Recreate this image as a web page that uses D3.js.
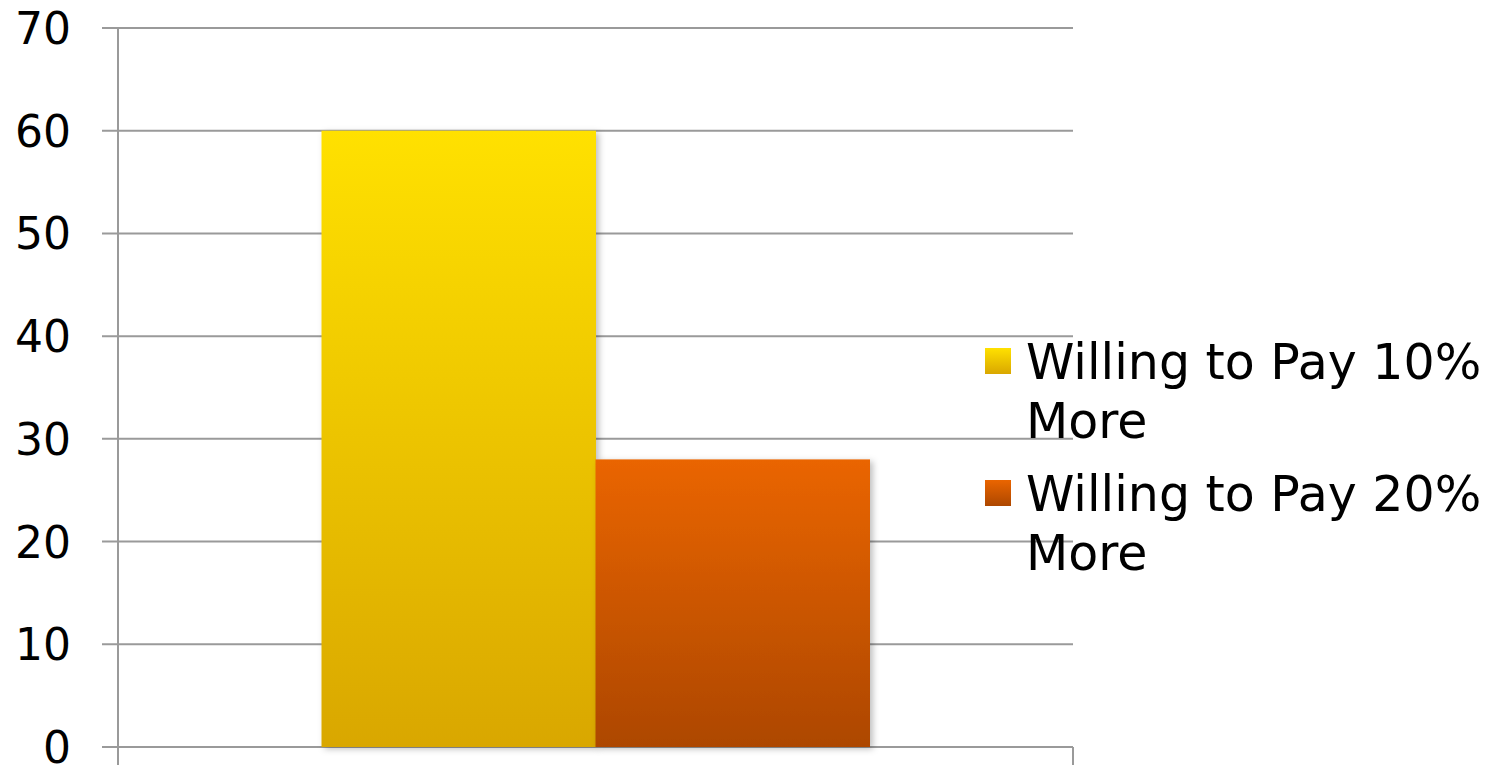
<!DOCTYPE html>
<html>
<head>
<meta charset="utf-8">
<script src="https://cdn.jsdelivr.net/npm/d3@7"></script>
<style>
  body { margin: 0; background: #fff; }
  text { font-family: Verdana, "DejaVu Sans", sans-serif; fill: #000; }
</style>
</head>
<body>
<div id="container"></div>
<script>
var categories = [""];
var seriesNames = ["Willing to Pay 10% More", "Willing to Pay 20% More"];
var legendLines = [["Willing to Pay 10%", "More"], ["Willing to Pay 20%", "More"]];
var seriesValues = [60, 28];
var yTicks = [0, 10, 20, 30, 40, 50, 60, 70];

var w = 1493, h = 765;
var gradColors = [["#ffe100", "#d9a700"], ["#ea6500", "#ad4700"]];

var svg = d3.select("#container")
	.append("svg")
	.attr("width", w)
	.attr("height", h);

var defs = svg.append("defs");
gradColors.forEach(function(c, i) {
	var g = defs.append("linearGradient")
		.attr("id", "grad" + i)
		.attr("x1", 0).attr("y1", 0).attr("x2", 0).attr("y2", 1);
	g.append("stop").attr("offset", "0%").attr("stop-color", c[0]);
	g.append("stop").attr("offset", "100%").attr("stop-color", c[1]);
});
var f = defs.append("filter").attr("id", "shadow")
	.attr("x", "-10%").attr("y", "-10%").attr("width", "130%").attr("height", "130%");
f.append("feDropShadow")
	.attr("dx", 3).attr("dy", 2).attr("stdDeviation", 3)
	.attr("flood-color", "#000").attr("flood-opacity", 0.25);

var plotLeft = 118, plotRight = 1073, plotTop = 28, plotBottom = 747;

var y = d3.scaleLinear().domain([0, 70]).range([plotBottom, plotTop]);
var x0 = d3.scaleBand().domain(categories).range([plotLeft, plotRight])
	.paddingInner(0.2708).paddingOuter(0.2708);
var x1 = d3.scaleBand().domain(seriesNames).range([0, x0.bandwidth()]);

//gridlines
svg.selectAll("line.grid")
	.data(yTicks)
	.enter()
	.append("line")
	.attr("class", "grid")
	.attr("x1", plotLeft - 16)
	.attr("x2", plotRight)
	.attr("y1", function(d) { return y(d); })
	.attr("y2", function(d) { return y(d); })
	.attr("stroke", "#9a9a9a")
	.attr("stroke-width", 2);

//y axis line and bottom ticks
svg.append("line")
	.attr("x1", plotLeft).attr("x2", plotLeft)
	.attr("y1", plotTop).attr("y2", h)
	.attr("stroke", "#9a9a9a").attr("stroke-width", 2);
svg.append("line")
	.attr("x1", plotRight).attr("x2", plotRight)
	.attr("y1", plotBottom).attr("y2", h)
	.attr("stroke", "#9a9a9a").attr("stroke-width", 2);

//tick labels
svg.selectAll("text.tick")
	.data(yTicks)
	.enter()
	.append("text")
	.attr("class", "tick")
	.attr("x", 71)
	.attr("y", function(d) { return y(d) + 16; })
	.attr("text-anchor", "end")
	.style("font-size", "44px")
	.text(function(d) { return d; });

//bars
var groups = svg.selectAll("g.cat")
	.data(categories)
	.enter()
	.append("g")
	.attr("class", "cat")
	.attr("transform", function(d) { return "translate(" + x0(d) + ",0)"; });

groups.selectAll("rect")
	.data(seriesValues.map(function(v, i) { return { name: seriesNames[i], value: v, i: i }; }))
	.enter()
	.append("rect")
	.attr("x", function(d) { return x1(d.name); })
	.attr("y", function(d) { return y(d.value); })
	.attr("width", x1.bandwidth() + 0.5)
	.attr("height", function(d) { return y(0) - y(d.value); })
	.attr("fill", function(d) { return "url(#grad" + d.i + ")"; })
	.attr("filter", "url(#shadow)");

//legend
var legend = svg.selectAll("g.legend")
	.data(legendLines)
	.enter()
	.append("g")
	.attr("class", "legend")
	.attr("transform", function(d, i) { return "translate(985," + (348 + i * 132) + ")"; });

legend.append("rect")
	.attr("width", 26)
	.attr("height", 26)
	.attr("fill", function(d, i) { return "url(#grad" + i + ")"; });

legend.append("text")
	.attr("x", 41)
	.attr("y", 31)
	.style("font-size", "49px")
	.selectAll("tspan")
	.data(function(d) { return d; })
	.enter()
	.append("tspan")
	.attr("x", 41)
	.attr("dy", function(d, i) { return i === 0 ? 0 : 59; })
	.text(function(d) { return d; });
</script>
</body>
</html>
